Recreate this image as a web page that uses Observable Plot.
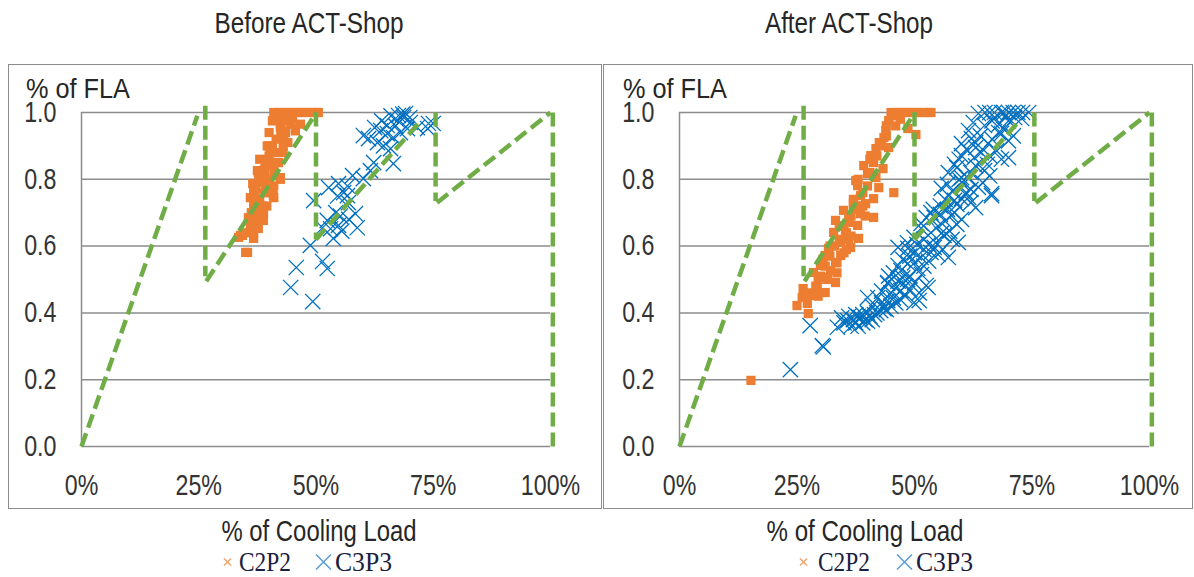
<!DOCTYPE html>
<html><head><meta charset="utf-8">
<script src="https://cdn.jsdelivr.net/npm/d3@7"></script>
<script src="https://cdn.jsdelivr.net/npm/@observablehq/plot@0.6"></script>
<style>
body{margin:0;background:#fff;}
#wrap{position:relative;width:1194px;height:577px;overflow:hidden;}
.box{position:absolute;top:64px;height:445px;border:1.5px solid #8c8c8c;box-sizing:border-box;}
.plot{position:absolute;top:64px;}
#overlay{position:absolute;left:0;top:0;pointer-events:none;}
</style>
</head><body>
<div id="wrap">
  <div class="box" style="left:8px;width:594px"></div>
  <div class="box" style="left:603px;width:590px"></div>
  <div class="plot" id="p1" style="left:8px"></div>
  <div class="plot" id="p2" style="left:603px"></div>
  <svg id="overlay" width="1194" height="577"></svg>
</div>
<script>
const FONT = '"Liberation Sans",Arial,sans-serif';
const SERIF = '"Liberation Serif","Times New Roman",serif';
const panelTitles = ["Before ACT-Shop", "After ACT-Shop"];
const yAxisTitle = "% of FLA";
const xAxisTitle = "% of Cooling Load";
const seriesNames = ["C2P2", "C3P3"];
const xTicks = [0, 25, 50, 75, 100];
const yTicks = [0, 0.2, 0.4, 0.6, 0.8, 1.0];

// design curve (green dashed), as segments
const segX1 = [0, 26.4, 26.6, 50, 50, 75.5, 75.8, 100.5];
const segY1 = [0, 1.02, 0.495, 1.0, 0.62, 1.0, 0.73, 1.0];
const segX2 = [24.7, 26.4, 50.1, 50, 72, 75.5, 100, 100.5];
const segY2 = [0.99, 0.51, 1.0, 0.62, 0.97, 0.735, 1.0, 0];

// Before: C2P2
const beforeC2P2x = [41,42,43,44,45,46,47,48,49,50,50.5,41.5,44,
  40.7,42.4,44.5,46.7,42.8,45.6,44,39.6,40.7,40.3,41.5,43,39.2,42,37.5,41,37.8,42.4,36.5,39.2,36.7,40.7,36,41,36.7,38.8,35.6,38.8,37.1,36.7,33.5,34.3,35.4,
  40.9,42.4,45.6,39.9,43.1,37.7,42.4,37.1,40.9,36.7,38.8,35.6,37.7,33.9,36.7,35,38.5,39.5,38,40,37,39,
  38,39,40,41.5,42.5,43.5,40,39,38,37.5,36,35,39.5,40,41,43,45,42,43.5,37,38.5,39.8,41.2,36.2];
const beforeC2P2y = [1,1,1,1,1,1,1,1,1,1,1,0.99,0.99,
  0.975,0.965,0.965,0.965,0.945,0.945,0.91,0.90,0.90,0.88,0.88,0.88,0.85,0.85,0.826,0.826,0.805,0.805,0.787,0.787,0.766,0.766,0.745,0.745,0.727,0.70,0.685,0.677,0.656,0.638,0.626,0.632,0.581,
  0.976,0.955,0.952,0.90,0.916,0.82,0.80,0.773,0.751,0.73,0.70,0.683,0.653,0.632,0.623,0.581,0.72,0.76,0.79,0.84,0.70,0.81,
  0.86,0.83,0.87,0.92,0.93,0.94,0.94,0.76,0.74,0.68,0.66,0.64,0.72,0.80,0.78,0.90,0.98,0.98,0.975,0.76,0.81,0.86,0.85,0.70];
// Before: C3P3
const beforeC3P3x = [44.6,49.3,45.8,51.4,52.4,48.8,49.5,52.7,54.8,57.8,55.9,56.9,58.4,58.8,53.1,53.7,54.8,54.2,55.2,52.4,51.4,56.7,60.1,61.6,62.3,61.2,60.1,63.1,64.4,63.8,65.2,66.5,65.9,67.4,68.7,70.1,71.6,69.5,68,66.5,69.1,67.6,65.2,75,73.8,54.6,56.7,74,64,66,67,68.5,70,62.5,57,55.5];
const beforeC3P3y = [0.476,0.434,0.536,0.554,0.533,0.602,0.736,0.775,0.787,0.811,0.76,0.73,0.697,0.655,0.652,0.623,0.662,0.70,0.69,0.677,0.655,0.751,0.802,0.826,0.85,0.922,0.931,0.91,0.90,0.946,0.961,0.847,0.892,0.976,0.985,0.97,0.955,0.952,0.94,0.925,0.997,0.991,0.937,0.967,0.952,0.75,0.78,0.967,0.975,0.99,0.96,0.995,0.985,0.955,0.68,0.645];

// After: C2P2
const afterC2P2x = [45,46,47,48,49,50,51,52,53,53.5,45.5,
  44.5,43.9,43.5,50.3,48.6,41.8,44.5,40.7,41.3,43.3,39.2,40,37.5,41.8,45.6,37.9,42.4,38.5,41.3,39.6,37,34.9,38.5,41.3,33.2,36,37.9,32.8,35.3,38.1,34.3,36.4,31.7,31,34.3,33.2,30,28.5,32.1,33.2,30.4,26.3,29.3,31,26.1,28.3,25,27.2,27.4,15.2,
  36.5,39,35.5,34,32,30.5,29.5,36,38,40.5,42.5,44,35,37,33.5,
  42,43,44,46,47,40,39,36,35,34,33,32,31,30,29,28,27,37,38,39.5,40.5,36.5,35.5,33.5,31.5,29.5];
const afterC2P2y = [1,1,1,1,1,1,1,1,1,1,0.99,
  0.976,0.946,0.925,0.934,0.952,0.892,0.895,0.871,0.85,0.832,0.841,0.817,0.796,0.805,0.76,0.781,0.775,0.751,0.742,0.727,0.73,0.707,0.697,0.686,0.677,0.671,0.662,0.641,0.632,0.623,0.611,0.596,0.593,0.572,0.572,0.551,0.542,0.521,0.527,0.491,0.506,0.473,0.473,0.461,0.446,0.452,0.422,0.428,0.398,0.198,
  0.69,0.72,0.64,0.66,0.60,0.56,0.50,0.62,0.80,0.86,0.91,0.96,0.58,0.71,0.52,
  0.87,0.90,0.93,0.96,0.98,0.78,0.76,0.68,0.66,0.62,0.60,0.57,0.54,0.51,0.48,0.46,0.45,0.74,0.72,0.69,0.82,0.63,0.59,0.55,0.50,0.45];
// After: C3P3
const afterC3P3x = [23.6,30.4,30.6,27.8,33.6,
  35,35.8,36.5,37,37.5,38,38.5,39,39.5,40,40.5,41,36,38,39,41.5,42,40,37.5,34.5,
  42.8,43.5,44.3,40,42.2,45,46,43,44,47,48,49.9,51,45.5,41,
  47.1,44.3,44.3,46,48,49,50,52.5,52.9,45,46.5,51,43,48.5,
  47.1,48.6,46.5,50.7,45.5,49,51.5,47.5,52,44.5,50,
  51.4,57.2,46.5,48.6,53.5,54.2,49,52,55,50,47.5,53,56,
  49.9,55.7,56.3,59.3,51.4,48.5,52,53.5,54.5,57.5,50.5,58,53,
  51.4,54.2,53.5,57.8,55,56.5,59,52.5,58.5,60,55.5,
  58.5,61.5,60,66.4,55.5,57,59,62,54,63,56.5,
  63.6,55.7,66.4,60,58,62,64.5,57,61,59.5,
  64.9,60,61.5,57.2,63,59,66,62,58.5,65.5,
  62.7,70,60,64.2,61,66,67.5,63,59.5,68.5,
  65.7,60,68.5,61.5,62.1,67.9,64,66.5,70,63,69,71,
  64.9,72.8,71.3,63.6,68.5,65,66,67,69,70,71,72,73,74.3,66.5,68,70,62.5,69.5,67];
const afterC3P3y = [0.23,0.302,0.298,0.362,0.357,
  0.37,0.377,0.36,0.38,0.37,0.39,0.386,0.37,0.38,0.375,0.39,0.38,0.39,0.36,0.395,0.395,0.40,0.40,0.395,0.385,
  0.407,0.413,0.437,0.446,0.446,0.42,0.43,0.43,0.41,0.44,0.45,0.431,0.437,0.445,0.42,
  0.467,0.488,0.491,0.475,0.48,0.47,0.49,0.482,0.476,0.46,0.495,0.46,0.465,0.50,
  0.527,0.548,0.542,0.533,0.52,0.51,0.515,0.505,0.54,0.51,0.55,
  0.566,0.566,0.596,0.593,0.581,0.596,0.57,0.59,0.575,0.58,0.56,0.555,0.59,
  0.626,0.638,0.632,0.611,0.653,0.61,0.62,0.64,0.61,0.645,0.605,0.62,0.605,
  0.668,0.686,0.70,0.692,0.66,0.675,0.665,0.685,0.70,0.68,0.695,
  0.737,0.746,0.742,0.751,0.72,0.71,0.725,0.73,0.71,0.715,0.74,
  0.776,0.773,0.757,0.79,0.765,0.77,0.79,0.785,0.76,0.80,
  0.826,0.805,0.802,0.82,0.84,0.835,0.81,0.82,0.845,0.845,
  0.865,0.865,0.871,0.88,0.89,0.87,0.885,0.895,0.86,0.86,
  0.907,0.907,0.937,0.946,0.922,0.94,0.93,0.92,0.915,0.91,0.95,0.93,
  0.961,0.982,0.985,0.997,1.0,1.0,1.0,1.0,1.0,1.0,1.0,1.0,1.0,1.0,0.975,0.965,0.975,0.97,0.99,0.985];

const segs = segX1.map((d,i)=>({x1:d, y1:segY1[i], x2:segX2[i], y2:segY2[i]}));
const pts = (xs, ys) => xs.map((d,i)=>({x:d, y:ys[i]}));

function makePlot(c2, c3, w, ml, mr){
  return Plot.plot({
    width: w, height: 445, marginLeft: ml, marginRight: mr, marginTop: 48, marginBottom: 63,
    x: {domain:[0,100], ticks: xTicks, tickFormat: d => d + "%", tickSize: 0, tickPadding: 28, label: null},
    y: {domain:[0,1], ticks: yTicks, tickFormat: d3.format(".1f"), tickSize: 0, tickPadding: 25, label: null},
    style: {fontFamily: FONT, fontSize: "29px", color: "#333", background: "transparent", overflow: "visible"},
    marks: [
      Plot.gridY(yTicks, {stroke: "#8c8c8c", strokeOpacity: 1, strokeWidth: 1.5}),
      Plot.ruleX([0], {stroke: "#8c8c8c", strokeWidth: 1.5}),
      Plot.dot(c2, {x: "x", y: "y", symbol: "square", fill: "#ED7D31", r: 5.2}),
      Plot.dot(c3, {x: "x", y: "y", symbol: "times", stroke: "#0070C0", r: 7, strokeWidth: 1.3}),
      Plot.link(segs, {x1: "x1", y1: "y1", x2: "x2", y2: "y2", stroke: "#70AD47", strokeWidth: 4.5, strokeDasharray: "14,6", strokeLinecap: "butt"})
    ]
  });
}

// narrow the sans text horizontally (the reference uses a narrow face)
function condense(root, factor){
  root.querySelectorAll("text").forEach(t => {
    const len = t.getComputedTextLength();
    if (len > 0) { t.setAttribute("textLength", (len * factor).toFixed(1)); t.setAttribute("lengthAdjust", "spacingAndGlyphs"); }
  });
}

const s1 = makePlot(pts(beforeC2P2x, beforeC2P2y), pts(beforeC3P3x, beforeC3P3y), 594, 73, 52);
const s2 = makePlot(pts(afterC2P2x, afterC2P2y), pts(afterC3P3x, afterC3P3y), 590, 76, 44);
document.getElementById("p1").appendChild(s1);
document.getElementById("p2").appendChild(s2);
condense(s1, 0.8);
condense(s2, 0.8);

// overlay texts
const ov = d3.select("#overlay");
const panels = [
  {title: panelTitles[0], tx: 309, tw: 189, fla: 26, xt: 319, xw: 195, lg: {o: 227.5, t1: 239, b: 323.5, t2: 335}},
  {title: panelTitles[1], tx: 849, tw: 168, fla: 623, xt: 865, xw: 197, lg: {o: 803.5, t1: 818, b: 904.5, t2: 916}}
];
panels.forEach(p => {
  ov.append("text").attr("x", p.tx).attr("y", 33).attr("text-anchor", "middle")
    .attr("textLength", p.tw).attr("lengthAdjust", "spacingAndGlyphs")
    .style("font-family", FONT).style("font-size", "29px").attr("fill", "#262626").text(p.title);
  ov.append("text").attr("x", p.fla).attr("y", 98).attr("textLength", 104).attr("lengthAdjust", "spacingAndGlyphs")
    .style("font-family", FONT).style("font-size", "28px").attr("fill", "#262626").text(yAxisTitle);
  ov.append("text").attr("x", p.xt).attr("y", 541).attr("text-anchor", "middle")
    .attr("textLength", p.xw).attr("lengthAdjust", "spacingAndGlyphs")
    .style("font-family", FONT).style("font-size", "29px").attr("fill", "#262626").text(xAxisTitle);
  // legend
  const cy = 562;
  const o = p.lg;
  ov.append("path").attr("d", `M${o.o-3.5},${cy-3.5}L${o.o+3.5},${cy+3.5}M${o.o+3.5},${cy-3.5}L${o.o-3.5},${cy+3.5}`)
    .attr("stroke", "#F4A46E").attr("stroke-width", 1.5);
  ov.append("text").attr("x", o.t1).attr("y", 571).attr("textLength", 52).attr("lengthAdjust", "spacingAndGlyphs")
    .style("font-family", SERIF).style("font-size", "28px").attr("fill", "#1a2040").text(seriesNames[0]);
  ov.append("path").attr("d", `M${o.b-7.5},${cy-7.5}L${o.b+7.5},${cy+7.5}M${o.b+7.5},${cy-7.5}L${o.b-7.5},${cy+7.5}`)
    .attr("stroke", "#5B9BD5").attr("stroke-width", 1.5);
  ov.append("text").attr("x", o.t2).attr("y", 571).attr("textLength", 57).attr("lengthAdjust", "spacingAndGlyphs")
    .style("font-family", SERIF).style("font-size", "28px").attr("fill", "#1a2040").text(seriesNames[1]);
});
</script>
</body></html>
